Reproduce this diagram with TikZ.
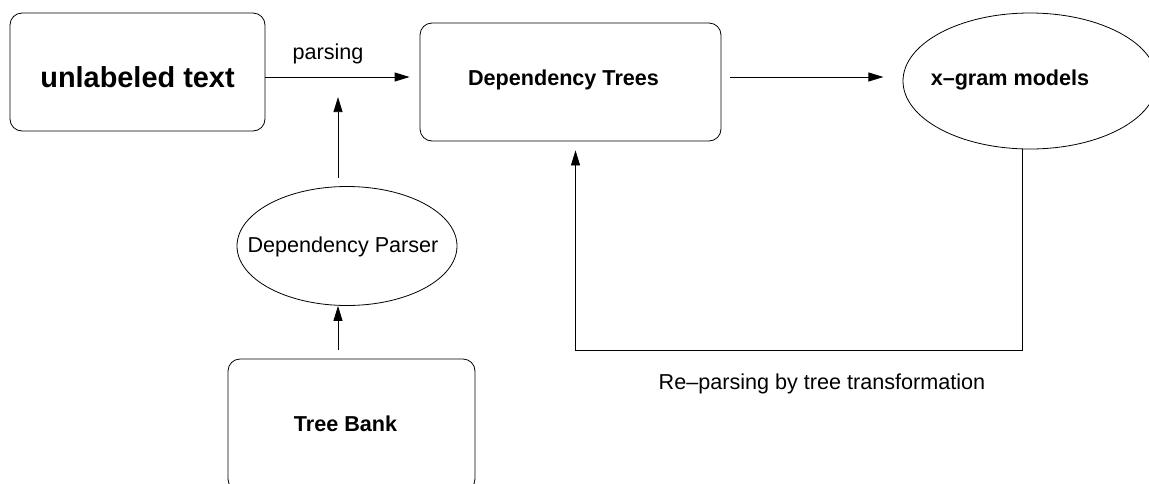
\documentclass[tikz,border=0pt]{standalone}
\usepackage{fontspec}
\setmainfont{Liberation Sans}
\usetikzlibrary{arrows.meta,calc,shapes.geometric}
\tikzset{
  boxnode/.style={draw, line width=0.8pt, rounded corners=12pt, inner sep=0pt},
  ovalnode/.style={draw, line width=0.8pt, ellipse, inner sep=0pt},
  arr/.style={line width=0.8pt, -{Triangle[length=15pt,width=9pt]}},
  smalltxt/.style={font=\fontsize{21.6}{24}\selectfont, inner sep=0pt},
  smallbold/.style={font=\fontsize{21.6}{24}\selectfont\bfseries, inner sep=0pt},
  bigbold/.style={font=\fontsize{28.9}{32}\selectfont\bfseries, inner sep=0pt},
}
\begin{document}
\begin{tikzpicture}[x=1pt,y=-1pt]
\useasboundingbox (0,0) rectangle (1149,483);
\clip (0,0) rectangle (1149,483);

% outlines
\node[boxnode, minimum width=255pt, minimum height=118pt] (ut) at (137.5,72) {};
\node[boxnode, minimum width=301pt, minimum height=118pt] (dt) at (570.5,82) {};
\node[ovalnode, minimum width=254pt, minimum height=136pt] (xg) at (1030,81) {};
\node[ovalnode, minimum width=220pt, minimum height=119pt] (dp) at (347,246) {};
\node[boxnode, minimum width=247pt, minimum height=132pt] (tb) at (351.5,425) {};

% labels inside the outlines
\node[bigbold] (utt) at ($(ut)+(0,5)$) {unlabeled text};
\node[smallbold] (dtt) at ($(dt)+(-7,-2)$) {Dependency Trees};
\node[smallbold] (xgt) at ($(xg)+(-20,-1)$) {x\textendash gram models};
\node[smalltxt] (dpt) at ($(dp)+(-4,1)$) {Dependency Parser};
\node[smallbold] (tbt) at ($(tb)+(-6,-1)$) {Tree Bank};

% parsing flow
\draw[arr] ($(ut.east)+(0,5)$) -- ($(dt.west)+(-10,-5)$);
\node[smalltxt] (lp) at (328,54) {parsing};
\draw[arr] ($(dt.east)+(9,-5)$) -- ($(dt.east)+(162,-5)$);

% parser feeds the parsing step
\draw[arr] ($(dp.north)+(-9,-8)$) -- ($(dp.north)+(-9,-89)$);
\draw[arr] ($(tb.north)+(-13.5,-9)$) -- ($(dp.south)+(-9,0)$);

% re-parsing loop
\coordinate (fb1) at ($(xg.south)+(-8,0)$);
\coordinate (fb2) at ($(fb1)+(0,201)$);
\coordinate (fb3) at ($(dt.south)+(5,9)$);
\draw[arr] (fb1) -- (fb2) -| (fb3);
\node[smalltxt] (lr) at (822,384) {Re\textendash parsing by tree transformation};
\end{tikzpicture}
\end{document}
